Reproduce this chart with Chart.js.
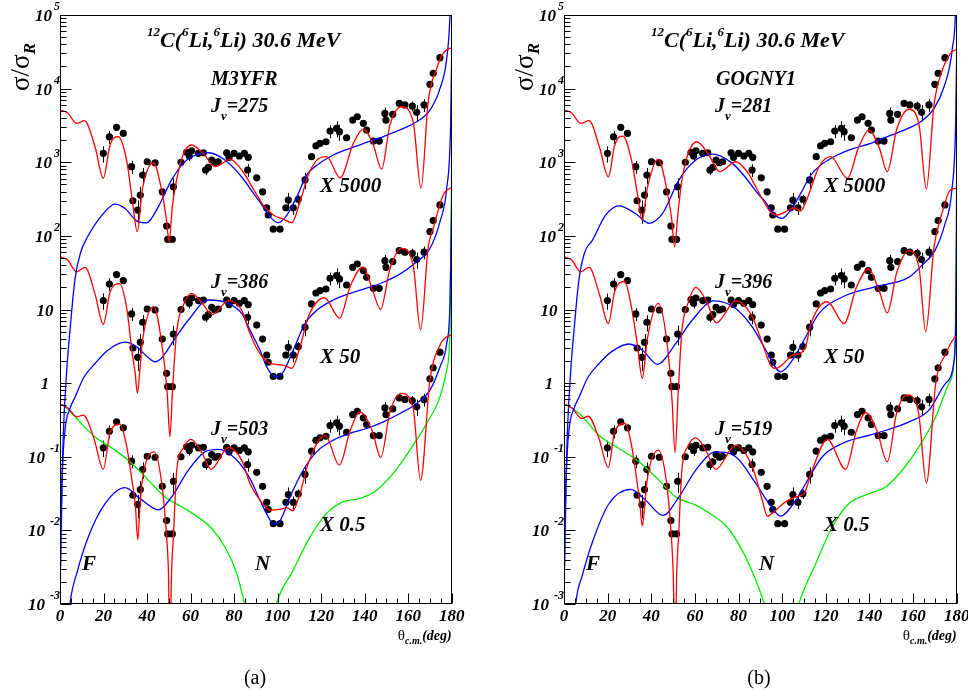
<!DOCTYPE html>
<html>
<head>
<meta charset="utf-8">
<script src="https://cdn.jsdelivr.net/npm/chart.js@4.4.1/dist/chart.umd.min.js"></script>
<style>
  html, body { margin: 0; padding: 0; background: #fff; }
  #wrap { position: relative; width: 968px; height: 693px; overflow: hidden; }
  #wrap canvas { position: absolute; top: 0; }
</style>
</head>
<body>
<div id="wrap">
  <canvas id="panelA" width="484" height="693" style="left:0px"></canvas>
  <canvas id="panelB" width="484" height="693" style="left:484px"></canvas>
</div>
<script>
// ---------------------------------------------------------------
// 12C(6Li,6Li) elastic scattering at 30.6 MeV: sigma/sigma_Rutherford
// ---------------------------------------------------------------

// Measured angular distribution (unscaled) and relative errors
const angleExp = [19.9, 22.7, 26.0, 29.1, 32.9, 33.5, 35.7, 36.9, 38.0, 40.1,
  43.7, 47.0, 49.0, 49.5, 51.6, 52.1, 55.6, 58.2, 59.4, 60.5,
  63.6, 65.9, 66.9, 68.2, 69.7, 71.2, 72.7, 76.6, 77.7, 80.0,
  82.4, 84.7, 86.2, 86.5, 90.4, 93.1, 95.0, 95.7, 98.0, 101.1,
  103.8, 104.9, 107.2, 109.5, 112.6, 115.6, 117.6, 119.5, 122.2, 124.1,
  127.1, 128.4, 131.7, 134.5, 136.6, 139.4, 140.9, 144.0, 146.7, 149.3,
  149.8, 152.9, 155.9, 158.5, 161.9, 163.9, 167.3, 170.0, 171.5, 174.6];
const sigmaExp = [0.264, 0.444, 0.596, 0.494, 0.174, 0.060, 0.0448, 0.0716, 0.134, 0.203,
  0.197, 0.0794, 0.0272, 0.0179, 0.0179, 0.0929, 0.200, 0.273, 0.243, 0.286,
  0.264, 0.269, 0.157, 0.170, 0.214, 0.197, 0.203, 0.269, 0.233, 0.264,
  0.243, 0.264, 0.157, 0.233, 0.123, 0.0794, 0.0482, 0.0384, 0.0247, 0.0247,
  0.0482, 0.0613, 0.0482, 0.0627, 0.115, 0.238, 0.335, 0.361, 0.380, 0.531,
  0.578, 0.520, 0.430, 0.748, 0.830, 0.676, 0.547, 0.388, 0.388, 0.922,
  0.748, 0.895, 1.26, 1.20, 1.16, 0.954, 1.20, 2.29, 3.23, 5.26];
const errExp = [0.25, 0.2, 0.08, 0.08, 0.2, 0.08, 0.35, 0.3, 0.25, 0.08,
  0.08, 0.08, 0.08, 0.08, 0.08, 0.3, 0.08, 0.08, 0.15, 0.08,
  0.08, 0.08, 0.15, 0.08, 0.08, 0.08, 0.08, 0.08, 0.1, 0.08,
  0.08, 0.1, 0.2, 0.1, 0.08, 0.08, 0.08, 0.08, 0.08, 0.08,
  0.08, 0.25, 0.2, 0.15, 0.25, 0.08, 0.08, 0.08, 0.08, 0.2,
  0.25, 0.25, 0.08, 0.08, 0.08, 0.08, 0.08, 0.08, 0.08, 0.2,
  0.08, 0.08, 0.08, 0.08, 0.15, 0.25, 0.2, 0.08, 0.08, 0.08];

// Multipliers applied to the three copies (top, middle, bottom)
const scaleFactors = [5000, 50, 0.5];
const scaleLabels = ['X 5000', 'X 50', 'X 0.5'];

// Volume integrals J_v of the folded potentials
const jvM3YFR = [275, 386, 503];
const jvGOGNY1 = [281, 396, 519];

// Axis ticks
const xTicks = [0, 20, 40, 60, 80, 100, 120, 140, 160, 180];
const yDecades = [-3, -2, -1, 0, 1, 2, 3, 4, 5];

// ---- (a) M3YFR: total (red) and far-side (blue) cross sections ----
const a275TotTh = [0, 3.5, 7.7, 11.2, 16.1, 19.9, 23.0, 26.8, 30.6, 33.2, 35.5, 37.8, 42.9, 46.7, 48.8, 50.2, 51.6, 53.6, 56.7, 60.5, 65.8, 71.5, 78.1, 83.5, 89.6, 93.4, 98.0, 102.6, 106.5, 110.3, 114.1, 118.0, 122.5, 128.7, 134.8, 139.4, 144.0, 147.8, 151.6, 157.0, 162.3, 165.9, 169.2, 173.1, 176.1, 179.2, 180];
const a275Tot = [1.03, 0.93, 0.674, 0.733, 0.325, 0.121, 0.343, 0.444, 0.214, 0.0612, 0.0228, 0.0838, 0.197, 0.0838, 0.035, 0.0166, 0.05, 0.115, 0.258, 0.343, 0.264, 0.174, 0.219, 0.157, 0.0794, 0.0524, 0.0384, 0.0338, 0.0301, 0.0581, 0.134, 0.214, 0.238, 0.123, 0.361, 0.565, 0.343, 0.161, 0.64, 1.135, 0.71, 0.0883, 1.33, 3.78, 6.04, 7.05, 7.1];
const a275FarTh = [0.3, 1.5, 3.1, 4.6, 6.9, 9.5, 12.5, 19.2, 25.3, 29.9, 35.2, 39.8, 45.2, 51.3, 57.4, 63.5, 68.2, 75.8, 83.5, 89.6, 91.9, 96.5, 100.3, 104.2, 108.8, 113.4, 118, 125.6, 133.3, 140.9, 148.6, 156.2, 163.9, 170, 174.6, 177.7, 179.2, 180];
const a275Far = [2.0e-6, 4.0e-5, 3.0e-4, 1.05e-3, 5.2e-3, 1.2e-2, 1.9e-2, 3.8e-2, 5.4e-2, 4.7e-2, 3.2e-2, 3.0e-2, 5.0e-2, 0.115, 0.204, 0.257, 0.269, 0.214, 0.126, 0.0708, 0.0575, 0.0363, 0.0302, 0.038, 0.0676, 0.135, 0.182, 0.251, 0.309, 0.372, 0.447, 0.55, 0.708, 1.02, 2.0, 5.1, 20, 200];

const a386TotTh = [0, 3.5, 7.7, 11.5, 16.1, 19.9, 23.0, 27.3, 30.6, 33.2, 34.5, 35.6, 36.7, 37.8, 43.1, 46.7, 49.3, 50.5, 51.7, 53.6, 56.7, 60.5, 65.8, 69.9, 77.5, 83.5, 87.3, 91.9, 96.5, 102.6, 106.5, 110.3, 114.1, 121.5, 128.5, 133.3, 139.2, 143.8, 147.3, 151.6, 157.0, 162.3, 165.7, 169.2, 171.5, 176.1, 179.2, 180];
const a386Tot = [1.04, 0.94, 0.65, 0.746, 0.324, 0.126, 0.343, 0.448, 0.214, 0.050, 0.028, 0.0145, 0.03, 0.0708, 0.219, 0.0708, 0.014, 0.00372, 0.016, 0.10, 0.229, 0.332, 0.234, 0.170, 0.264, 0.195, 0.0946, 0.0502, 0.0372, 0.0352, 0.0317, 0.0618, 0.159, 0.289, 0.153, 0.408, 0.76, 0.355, 0.20, 0.708, 1.35, 0.794, 0.105, 1.41, 2.52, 7.16, 8.83, 8.9];
const a386FarTh = [0.3, 1.0, 2.3, 4.5, 6.9, 11, 16.1, 22, 29.9, 35, 40, 43.7, 47, 51.3, 59, 68.2, 77.3, 83.5, 87.3, 91.9, 95, 98.8, 102.6, 107.2, 112.6, 118, 125.6, 133.3, 140.9, 148.6, 156.2, 163.9, 170, 174.6, 177.7, 179.5, 180];
const a386Far = [6.3e-5, 1.0e-3, 4.6e-3, 8.9e-3, 1.29e-2, 2.4e-2, 3.7e-2, 5.6e-2, 7.2e-2, 6.3e-2, 4.6e-2, 3.9e-2, 4.5e-2, 6.9e-2, 0.144, 0.269, 0.242, 0.177, 0.105, 0.0564, 0.0332, 0.0244, 0.0285, 0.0564, 0.129, 0.195, 0.269, 0.332, 0.39, 0.469, 0.604, 0.893, 1.35, 3.1, 8.8, 63, 630];

const a503TotTh = [0, 1.5, 4, 7.7, 10.7, 15.5, 19.9, 23.0, 27.6, 30.6, 33.2, 34.6, 35.7, 36.8, 37.8, 43.3, 46.7, 49.0, 49.8, 50.5, 51.3, 52.1, 53.6, 56.7, 60.2, 65.3, 69.4, 77.3, 83.5, 87.3, 91.9, 96.5, 101.1, 104.2, 106.9, 110.3, 114.1, 121.8, 128.4, 133.3, 137.9, 143.5, 147.4, 151.6, 157.0, 162.3, 165.7, 170.0, 174.6, 179.2, 180];
const a503Tot = [1.03, 1.0, 0.9, 0.697, 0.735, 0.363, 0.135, 0.427, 0.555, 0.282, 0.09, 0.045, 0.015, 0.045, 0.095, 0.233, 0.089, 0.0163, 0.0058, 5.0e-4, 0.0058, 0.0163, 0.126, 0.263, 0.344, 0.224, 0.135, 0.267, 0.180, 0.0867, 0.0514, 0.0376, 0.0385, 0.0408, 0.0368, 0.0632, 0.163, 0.393, 0.154, 0.447, 0.815, 0.447, 0.195, 0.81, 1.45, 0.91, 0.0957, 2.19, 6.56, 8.93, 9.0];
const a503FarTh = [3.5, 4.6, 8, 13, 20.7, 29.9, 36.8, 45.2, 51.3, 59, 66.6, 72.7, 80.4, 87.3, 91.9, 95.7, 98, 101.1, 105.7, 111.8, 117.9, 125.6, 133.3, 140.9, 148.6, 156.2, 163.9, 170, 174.6, 177.7, 179.2, 180];
const a503Far = [7.9e-4, 2.0e-3, 5.6e-3, 1.63e-2, 4.6e-2, 7.6e-2, 5.4e-2, 3.8e-2, 5.7e-2, 0.132, 0.233, 0.252, 0.191, 0.101, 0.0514, 0.0305, 0.0243, 0.0269, 0.057, 0.132, 0.233, 0.337, 0.415, 0.484, 0.596, 0.774, 1.06, 1.61, 3.32, 6.93, 24, 630];
const a503NearTh = [0, 1.5, 6.9, 16.1, 25.3, 32.9, 40.6, 48.2, 55.9, 62, 69.7, 75.8, 81.2, 84.7, 88, 92, 96, 99.6, 107.2, 114.9, 122.5, 130.2, 137.8, 145.5, 153.1, 160.8, 168.5, 174.6, 177.7, 179.2, 180];
const a503Near = [1.03, 1.0, 0.697, 0.372, 0.246, 0.163, 0.0962, 0.057, 0.0418, 0.0324, 0.0212, 0.0119, 0.0052, 0.00205, 6.3e-4, 2.0e-4, 6.3e-4, 0.00205, 0.00577, 0.0163, 0.034, 0.0491, 0.0542, 0.0703, 0.119, 0.246, 0.566, 1.30, 3.03, 10.5, 2000];

// ---- (b) GOGNY1: total (red) and far-side (blue) cross sections ----
const b281TotTh = [0, 3.5, 7.7, 11.5, 16.3, 20.3, 23.3, 27.0, 30.8, 33.5, 35.9, 38.2, 43.2, 47, 49.3, 50.7, 52.2, 54, 57, 60.8, 66, 71.4, 78.7, 84, 87.1, 91.7, 95.5, 97.8, 101.6, 105.4, 108.5, 111.5, 116.9, 122.2, 129.9, 135, 139.8, 144.5, 148.2, 152.5, 158.2, 162.8, 166.1, 169.6, 173.4, 176.5, 179.2, 180];
const b281Tot = [1.03, 0.93, 0.674, 0.733, 0.317, 0.126, 0.348, 0.454, 0.224, 0.0794, 0.0328, 0.0891, 0.221, 0.0891, 0.035, 0.0142, 0.04, 0.112, 0.269, 0.38, 0.263, 0.149, 0.203, 0.148, 0.103, 0.0577, 0.0399, 0.0384, 0.0428, 0.0482, 0.0435, 0.0647, 0.174, 0.238, 0.121, 0.316, 0.547, 0.316, 0.149, 0.562, 1.05, 0.631, 0.0865, 1.2, 3.58, 5.62, 6.68, 6.7];
const b281FarTh = [0.3, 1.5, 3.1, 4.6, 6.9, 9.5, 13, 19, 25.2, 32.9, 39, 45.1, 52.7, 60.4, 68, 77.2, 83, 89.4, 91.7, 96.3, 100.1, 103.9, 108.5, 113.1, 117.7, 125.3, 132.9, 140.6, 148.2, 155.9, 163.5, 169.6, 174.2, 178, 179.6, 180];
const b281Far = [2.0e-6, 4.0e-5, 3.0e-4, 1.05e-3, 5.2e-3, 1.2e-2, 1.74e-2, 3.8e-2, 5.1e-2, 4.0e-2, 2.96e-2, 4.0e-2, 0.115, 0.214, 0.258, 0.193, 0.126, 0.0716, 0.0612, 0.039, 0.0346, 0.0448, 0.0755, 0.134, 0.183, 0.251, 0.309, 0.361, 0.445, 0.547, 0.71, 1.08, 2.12, 7.05, 32, 200];

const b396TotTh = [0, 3.5, 7.7, 11.5, 16.3, 20.3, 23.3, 27.8, 30.8, 33.5, 35.9, 38.2, 43.2, 47, 49.5, 50.9, 52.3, 54, 57, 60.4, 65.5, 69.8, 78.7, 86.3, 90.9, 94.7, 97, 100.8, 104.7, 108, 110.8, 113.1, 120.7, 128.4, 134, 139.5, 144.5, 148.2, 152.5, 158, 162.8, 165.8, 169.6, 173.4, 176.5, 179.2, 180];
const b396Tot = [1.04, 0.94, 0.65, 0.746, 0.317, 0.129, 0.356, 0.48, 0.224, 0.071, 0.0232, 0.0796, 0.242, 0.0796, 0.012, 0.00226, 0.014, 0.1, 0.252, 0.399, 0.252, 0.132, 0.262, 0.159, 0.0693, 0.0352, 0.0317, 0.0372, 0.048, 0.0502, 0.0632, 0.126, 0.255, 0.129, 0.399, 0.71, 0.356, 0.18, 0.632, 1.26, 0.71, 0.1, 1.41, 4.2, 7.94, 8.83, 8.9];
const b396FarTh = [0.3, 1.0, 2.3, 4.5, 6.9, 11, 16.1, 22, 29.8, 36, 42.8, 51.2, 58.8, 68.8, 78.7, 86.3, 92.5, 99.3, 104.7, 110.8, 116.9, 127.6, 142.9, 158.2, 164, 170, 174.5, 177.7, 179.5, 180];
const b396Far = [6.3e-5, 1.0e-3, 4.6e-3, 8.9e-3, 1.29e-2, 2.4e-2, 3.7e-2, 5.4e-2, 6.8e-2, 5.6e-2, 3.6e-2, 6.9e-2, 0.144, 0.262, 0.207, 0.116, 0.0564, 0.0285, 0.041, 0.0853, 0.177, 0.296, 0.408, 0.551, 0.796, 1.26, 2.82, 7.96, 63, 630];

const b519TotTh = [0, 1.5, 4, 8.1, 11.1, 16, 20.3, 23.3, 28, 31, 33.5, 34.8, 35.9, 37, 38.2, 43.2, 47, 49.2, 50.0, 50.9, 51.7, 52.5, 54, 57, 60.4, 65.3, 69.5, 78.7, 86.3, 90.9, 93.2, 97, 101.6, 106.2, 110, 113.8, 120.7, 129.1, 134, 138.3, 143.5, 148.2, 152.5, 157.4, 162.5, 166.1, 170.4, 175, 179.5, 180];
const b519Tot = [1.03, 1.0, 0.9, 0.662, 0.71, 0.356, 0.143, 0.448, 0.566, 0.282, 0.09, 0.045, 0.0228, 0.045, 0.1, 0.246, 0.0893, 0.0163, 0.0058, 5.0e-4, 0.0058, 0.0163, 0.126, 0.282, 0.361, 0.235, 0.135, 0.288, 0.146, 0.0514, 0.0312, 0.0376, 0.0488, 0.057, 0.0632, 0.132, 0.344, 0.135, 0.448, 0.796, 0.448, 0.171, 0.796, 1.38, 0.796, 0.0883, 2.0, 5.02, 8.53, 8.6];
const b519FarTh = [4.5, 5.4, 8.5, 13, 20.6, 30.6, 37.5, 45.4, 52.7, 60.4, 69.5, 78.7, 87.9, 94, 99.3, 104.7, 110.8, 118.4, 127.6, 142.9, 158.2, 167.3, 175, 178.8, 179.6, 180];
const b519Far = [7.9e-4, 2.0e-3, 5.0e-3, 1.38e-2, 4.6e-2, 7.2e-2, 5.1e-2, 3.2e-2, 5.7e-2, 0.132, 0.233, 0.2, 0.0867, 0.0463, 0.0312, 0.044, 0.0867, 0.2, 0.303, 0.415, 0.596, 0.859, 2.0, 4.08, 20, 1260];
const b519NearTh = [0, 1.5, 6.9, 16, 25.2, 34.4, 43.5, 51.2, 60.4, 68, 74.1, 81.7, 87.9, 91.7, 95, 100, 104, 107.7, 115.4, 123, 130.6, 139.8, 147.5, 155.1, 162.7, 170.4, 176.5, 179.4, 180];
const b519Near = [1.03, 1.0, 0.778, 0.393, 0.259, 0.171, 0.0962, 0.057, 0.044, 0.0321, 0.0235, 0.0107, 0.0042, 0.00205, 7.9e-4, 3.2e-4, 7.9e-4, 0.00205, 0.0071, 0.0224, 0.0463, 0.0632, 0.0778, 0.132, 0.273, 0.697, 2.0, 7.96, 317];

// ---------------------------------------------------------------
const RED = '#ff0000', BLUE = '#0000ff', GREEN = '#00ee00';
const SERIF = '"Liberation Serif", "Times New Roman", serif';
const bi = s => `italic bold ${s}px ${SERIF}`;
const rm = s => `${s}px ${SERIF}`;

// draw a sequence of text runs [text, font, dy] starting at x (or aligned)
function runs(ctx, x, y, parts, align) {
  let total = 0;
  const w = parts.map(p => { ctx.font = p[1]; const m = ctx.measureText(p[0]).width; total += m; return m; });
  let cx = align === 'right' ? x - total : align === 'center' ? x - total / 2 : x;
  ctx.textAlign = 'left';
  parts.forEach((p, i) => { ctx.font = p[1]; ctx.fillText(p[0], cx, y + (p[2] || 0)); cx += w[i]; });
}

function decorations(panel) {
  return {
    id: 'decor',
    beforeDatasetsDraw(chart) {
      const { ctx, chartArea: a, scales: { x, y } } = chart;
      ctx.save();
      ctx.beginPath();
      ctx.rect(a.left, a.top, a.right - a.left, a.bottom - a.top);
      ctx.clip();
      ctx.strokeStyle = '#000';
      ctx.lineWidth = 1;
      ctx.beginPath();
      scaleFactors.forEach(f => {
        angleExp.forEach((t, i) => {
          const v = sigmaExp[i] * f, e = errExp[i] * v;
          const px = Math.round(x.getPixelForValue(t)) + 0.5;
          ctx.moveTo(px, y.getPixelForValue(v + e));
          ctx.lineTo(px, y.getPixelForValue(v - e));
        });
      });
      ctx.stroke();
      ctx.restore();
    },
    afterDraw(chart) {
      const { ctx, chartArea: a, scales: { x, y } } = chart;
      ctx.save();
      ctx.fillStyle = '#000';
      ctx.strokeStyle = '#000';
      ctx.lineWidth = 1;
      const L = Math.round(a.left) + 0.5, R = Math.round(a.right) - 0.5;
      const T = Math.round(a.top) + 0.5, B = Math.round(a.bottom) - 0.5;
      ctx.strokeRect(L, T, R - L, B - T);

      // tick marks (inside the frame)
      ctx.beginPath();
      for (let t = 0; t <= 180; t += 5) {
        const px = Math.round(x.getPixelForValue(t)) + 0.5;
        const len = t % 20 === 0 ? 10 : 5;
        ctx.moveTo(px, B); ctx.lineTo(px, B - len);
      }
      for (let e = -3; e <= 4; e++) {
        for (let m = 1; m <= 9; m++) {
          const py = Math.round(y.getPixelForValue(m * Math.pow(10, e))) + 0.5;
          const len = m === 1 ? 11 : 6;
          ctx.moveTo(L, py); ctx.lineTo(L + len, py);
        }
      }
      ctx.stroke();

      // x tick labels
      ctx.textAlign = 'center';
      ctx.font = bi(17);
      xTicks.forEach(t => ctx.fillText(String(t), x.getPixelForValue(t), a.bottom + 17));

      // y tick labels
      yDecades.forEach(e => {
        const py = y.getPixelForValue(Math.pow(10, e));
        if (e === 0 || e === 1) {
          ctx.textAlign = 'center';
          ctx.font = bi(17);
          ctx.fillText(e === 0 ? '1' : '10', a.left - 15, py + 6);
        } else {
          const ex = String(e);
          ctx.font = bi(12);
          const ew = ctx.measureText(ex).width;
          ctx.textAlign = 'left';
          ctx.fillText(ex, a.left - ew, py - 5);
          ctx.textAlign = 'right';
          ctx.font = bi(17);
          ctx.fillText('10', a.left - ew - (e < 0 ? 5 : 2), py + 6);
        }
      });

      // axis titles
      runs(ctx, a.right, a.bottom + 36, [['\u03B8', rm(15), 0], ['c.m.', bi(10), 4], ['(deg)', bi(14), 0]], 'right');
      ctx.save();
      ctx.translate(a.left - 31, a.top + 52);
      ctx.rotate(-Math.PI / 2);
      runs(ctx, 0, 0, [['\u03C3/\u03C3', rm(27), 0], ['R', bi(17), 6]], 'center');
      ctx.restore();

      // reaction, model and copy labels
      const X0 = a.left;
      runs(ctx, X0 + 87, 47, [['12', bi(13), -11], ['C(', bi(22), 0], ['6', bi(13), -11], ['Li,', bi(22), 0], ['6', bi(13), -11], ['Li) 30.6 MeV', bi(22), 0]]);
      ctx.textAlign = 'left';
      ctx.font = bi(20);
      ctx.fillText(panel.model, X0 + panel.modelDx, 85);
      const jvBase = [112, 288, 435];
      const xBase = [192, 363, 531];
      panel.jv.forEach((j, k) => {
        runs(ctx, X0 + 151, jvBase[k], [['J', bi(20), 0], ['v', bi(13), 8], ['=' + j, bi(20), 0]]);
        ctx.font = bi(21);
        ctx.textAlign = 'left';
        ctx.fillText(scaleLabels[k], X0 + 260, xBase[k]);
      });
      ctx.font = bi(21);
      ctx.fillText('F', X0 + 22, 570);
      ctx.fillText('N', X0 + 195, 570);

      // panel caption
      ctx.font = rm(20);
      ctx.textAlign = 'center';
      ctx.fillText(panel.caption, X0 + 195, 684);
      ctx.restore();
    }
  };
}

function curve(th, vals, factor, color) {
  return {
    data: th.map((t, i) => ({ x: t, y: vals[i] * factor })),
    borderColor: color,
    borderWidth: 1.3,
    pointRadius: 0,
    showLine: true,
    fill: false,
    cubicInterpolationMode: 'monotone',
    order: 1
  };
}

function buildPanel(panel) {
  const datasets = [];
  scaleFactors.forEach(f => {
    datasets.push({
      data: angleExp.map((t, i) => ({ x: t, y: sigmaExp[i] * f })),
      showLine: false,
      pointRadius: 3.6,
      pointBackgroundColor: '#000',
      pointBorderWidth: 0,
      order: 10
    });
  });
  panel.curves.forEach(c => datasets.push(curve(c[0], c[1], c[2], c[3])));

  new Chart(document.getElementById(panel.canvas), {
    type: 'line',
    data: { datasets },
    options: {
      responsive: false,
      animation: false,
      devicePixelRatio: 1,
      layout: { padding: { left: panel.padL, right: panel.padR, top: 15, bottom: 89 } },
      plugins: { legend: { display: false }, tooltip: { enabled: false } },
      scales: {
        x: { type: 'linear', min: 0, max: 180, display: false },
        y: { type: 'logarithmic', min: 1e-3, max: 1e5, display: false }
      }
    },
    plugins: [decorations(panel)]
  });
}

buildPanel({
  canvas: 'panelA', padL: 60, padR: 32.3, model: 'M3YFR', modelDx: 151, jv: jvM3YFR, caption: '(a)',
  curves: [
    [a275TotTh, a275Tot, 5000, RED], [a275FarTh, a275Far, 5000, BLUE],
    [a386TotTh, a386Tot, 50, RED], [a386FarTh, a386Far, 50, BLUE],
    [a503TotTh, a503Tot, 0.5, RED], [a503FarTh, a503Far, 0.5, BLUE], [a503NearTh, a503Near, 0.5, GREEN]
  ]
});
buildPanel({
  canvas: 'panelB', padL: 80, padR: 11.3, model: 'GOGNY1', modelDx: 152, jv: jvGOGNY1, caption: '(b)',
  curves: [
    [b281TotTh, b281Tot, 5000, RED], [b281FarTh, b281Far, 5000, BLUE],
    [b396TotTh, b396Tot, 50, RED], [b396FarTh, b396Far, 50, BLUE],
    [b519TotTh, b519Tot, 0.5, RED], [b519FarTh, b519Far, 0.5, BLUE], [b519NearTh, b519Near, 0.5, GREEN]
  ]
});
</script>
</body>
</html>
